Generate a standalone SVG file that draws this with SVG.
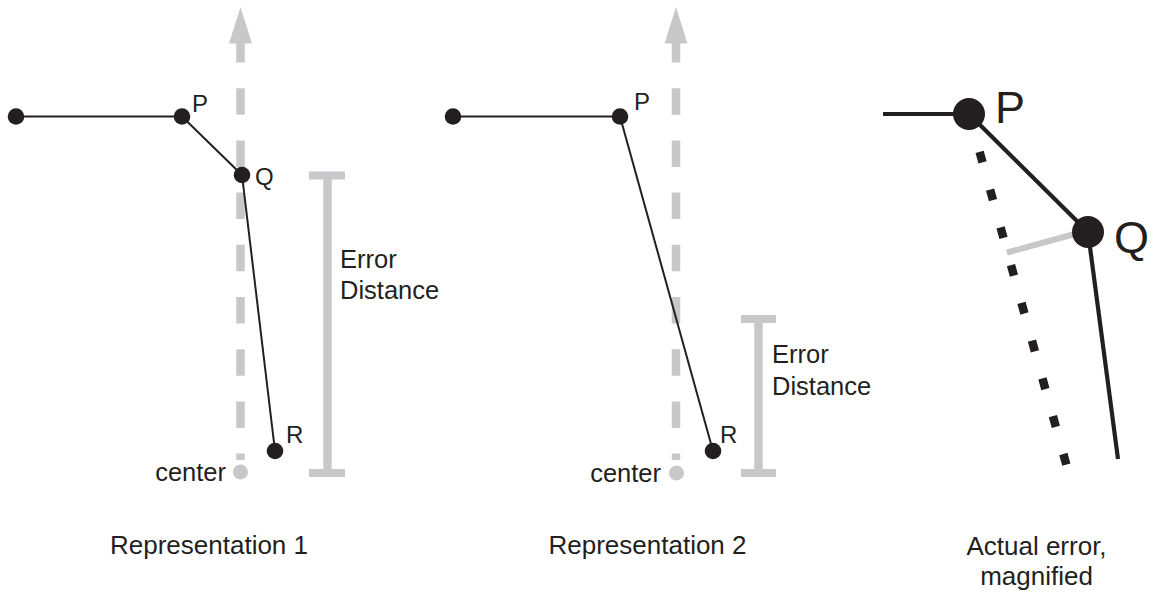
<svg xmlns="http://www.w3.org/2000/svg" width="1158" height="592" viewBox="0 0 1158 592">
  <style>
    .bg { fill: #ffffff; }
    .seg { stroke: #231f20; stroke-width: 2; fill: none; }
    .seg-thick { stroke: #231f20; stroke-width: 4.2; fill: none; }
    .axis { stroke: #c8c8ca; stroke-width: 8.5; fill: none; stroke-dasharray: 26.5 25.7; }
    .gray { stroke: #c8c8ca; fill: none; }
    .dot { fill: #231f20; }
    .center-dot { fill: #c8c8ca; }
    .arrowhead { fill: #c8c8ca; }
    .lbl { font-family: "Liberation Sans", Arial, Helvetica, sans-serif; fill: #231f20; font-size: 24px; }
    .note { font-family: "Liberation Sans", Arial, Helvetica, sans-serif; fill: #231f20; font-size: 25.5px; }
    .cap { font-family: "Liberation Sans", Arial, Helvetica, sans-serif; fill: #231f20; font-size: 26px; text-anchor: middle; }
    .big { font-family: "Liberation Sans", Arial, Helvetica, sans-serif; fill: #231f20; font-size: 45px; }
  </style>
  <rect class="bg" x="0" y="0" width="1158" height="592"/>

  <!-- centre axes (dashed, pointing up) -->
  <g id="axes">
    <line class="axis" x1="240.5" y1="36" x2="240.5" y2="460"/>
    <polygon class="arrowhead" points="240.5,7 229,43.5 252,43.5"/>
    <line class="axis" x1="676" y1="36" x2="676" y2="460"/>
    <polygon class="arrowhead" points="676,7 664.5,43.5 687.5,43.5"/>
  </g>

  <!-- error distance bars -->
  <g id="error-bars" class="gray">
    <g id="bar1">
      <line x1="327.5" y1="175" x2="327.5" y2="473" stroke-width="8.5"/>
      <line x1="309" y1="175.5" x2="345" y2="175.5" stroke-width="8"/>
      <line x1="309" y1="473" x2="345" y2="473" stroke-width="8"/>
    </g>
    <g id="bar2">
      <line x1="758.5" y1="319" x2="758.5" y2="473" stroke-width="8.5"/>
      <line x1="741" y1="319" x2="776" y2="319" stroke-width="8"/>
      <line x1="741" y1="473" x2="776" y2="473" stroke-width="8"/>
    </g>
  </g>

  <!-- connectors between points -->
  <g id="connectors">
    <line class="seg" x1="16" y1="116.5" x2="182" y2="116.5"/>
    <line class="seg" x1="182" y1="116.5" x2="242" y2="175"/>
    <line class="seg" x1="242" y1="175" x2="275" y2="451"/>

    <line class="seg" x1="453" y1="116.5" x2="620" y2="116.5"/>
    <line class="seg" x1="620" y1="116.5" x2="713" y2="451"/>

    <line class="seg-thick" x1="883" y1="114" x2="969" y2="114"/>
    <line class="seg-thick" x1="969" y1="114" x2="1088" y2="232"/>
    <line class="seg-thick" x1="1088" y1="232" x2="1118" y2="459"/>
    <!-- original P-to-R direction, drawn dotted -->
    <line stroke="#231f20" stroke-width="8.5" stroke-dasharray="11 28.2" x1="979.6" y1="151.8" x2="1066.8" y2="466.4"/>
    <line class="gray" stroke-width="6" x1="1007" y1="252.5" x2="1080" y2="232.5"/>
  </g>

  <!-- Representation 1 -->
  <g id="rep1-start"><circle class="dot" cx="16" cy="116.5" r="8.3"/></g>
  <g id="rep1-P"><circle class="dot" cx="182" cy="116.5" r="8.3"/><text class="lbl" x="192" y="112">P</text></g>
  <g id="rep1-Q"><circle class="dot" cx="242" cy="175" r="8.3"/><text class="lbl" x="255" y="185">Q</text></g>
  <g id="rep1-R"><circle class="dot" cx="275" cy="451" r="8.3"/><text class="lbl" x="286" y="443">R</text></g>
  <g id="rep1-center"><circle class="center-dot" cx="240.5" cy="472" r="7.5"/><text class="note" x="226" y="481" text-anchor="end">center</text></g>
  <g id="rep1-error"><text class="note" x="340" y="268">Error</text><text class="note" x="340" y="299">Distance</text></g>
  <g id="rep1-caption"><text class="cap" x="209" y="554">Representation 1</text></g>

  <!-- Representation 2 -->
  <g id="rep2-start"><circle class="dot" cx="453" cy="116.5" r="8.3"/></g>
  <g id="rep2-P"><circle class="dot" cx="620" cy="116.5" r="8.3"/><text class="lbl" x="634" y="110">P</text></g>
  <g id="rep2-R"><circle class="dot" cx="713" cy="451" r="8.3"/><text class="lbl" x="720" y="443">R</text></g>
  <g id="rep2-center"><circle class="center-dot" cx="676.5" cy="473" r="7.5"/><text class="note" x="661" y="482" text-anchor="end">center</text></g>
  <g id="rep2-error"><text class="note" x="772" y="363">Error</text><text class="note" x="772" y="395">Distance</text></g>
  <g id="rep2-caption"><text class="cap" x="647.5" y="554">Representation 2</text></g>

  <!-- Magnified view -->
  <g id="mag-P"><circle class="dot" cx="969" cy="114" r="16"/><text class="big" x="995" y="123">P</text></g>
  <g id="mag-Q"><circle class="dot" cx="1088" cy="232" r="16"/><text class="big" x="1114" y="253">Q</text></g>
  <g id="mag-caption"><text class="cap" x="1036.5" y="555">Actual error,</text><text class="cap" x="1036.5" y="585">magnified</text></g>
</svg>
